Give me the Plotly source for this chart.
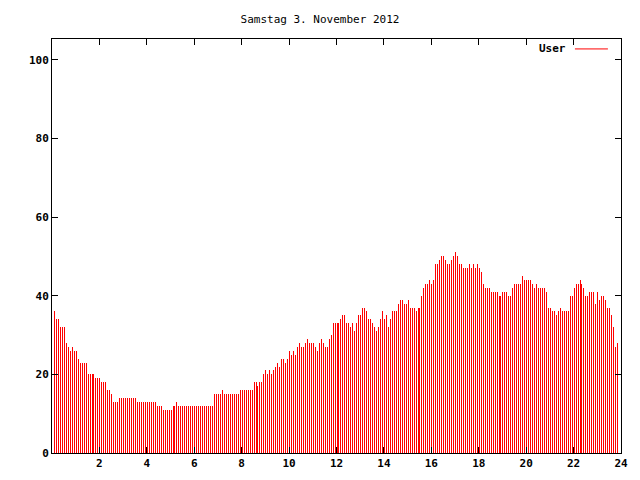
import plotly.graph_objects as go

title_text = "Samstag 3. November 2012"
series_name = "User"
step_minutes = 5

seg_a = [36, 34, 34, 32, 32, 32, 28, 27, 26, 27, 26, 26, 24, 23, 23, 23, 23, 20, 20, 20, 20, 19, 19, 19,
         18, 18, 18, 16, 16, 15, 13, 13, 13, 14, 14, 14, 14, 14, 14, 14, 14, 14, 13, 13]
seg_b = [13, 13, 13, 13, 13, 13, 13, 13, 12, 12, 12, 11, 11, 11, 11, 11, 12, 12, 13,
         12, 12, 12, 12, 12, 12, 12, 12, 12, 12, 12, 12, 12, 12, 12, 12, 12, 12,
         15, 15, 15, 15, 16, 15, 15, 15]
seg_c = [15, 15, 15, 15, 15, 16, 16, 16, 16, 16, 16, 16, 18, 18, 17, 18, 18,
         20, 21, 20, 21, 20, 21, 22, 23, 22, 24, 24, 23, 24, 26, 25, 26, 25, 27, 28, 27, 27, 28, 29,
         28, 28, 28, 27, 26, 28]
seg_d = [29, 28, 27, 27, 29, 30, 33, 33, 33, 33, 34, 35, 35, 33, 33, 32, 33, 31, 33, 35, 35, 37, 37,
         36, 34, 34, 33, 32, 31, 32, 34, 36, 34, 35, 32, 34, 36, 36, 36, 38, 39, 39, 38, 38, 39]
seg_e = [37, 37, 37, 36, 37, 37, 40, 42, 43, 43, 44, 43, 44, 48, 48, 49, 50, 50, 49, 48, 48, 49, 50,
         51, 50, 48, 48, 47, 47, 47, 48, 47, 48, 47, 48, 47, 46, 43, 42, 42, 42, 41, 41, 41, 41, 40]
seg_f = [40, 41, 41, 41, 40, 40, 42, 43, 43, 43, 43, 45, 44, 44, 44, 44, 43, 42, 43, 42, 42, 42, 42,
         41, 37, 37, 36, 36, 35, 36, 37, 36, 36, 36, 36, 40, 40, 42, 43, 43, 44, 43, 42, 40, 40]
seg_g = [41, 41, 41, 38, 41, 39, 40, 40, 39, 37, 37, 35, 32, 27, 28]

user = seg_a + seg_b + seg_c + seg_d + seg_e + seg_f + seg_g
hours = [(i + 1) * step_minutes / 60 for i in range(len(user))]

x_ticks = [2, 4, 6, 8, 10, 12, 14, 16, 18, 20, 22, 24]
y_ticks = [0, 20, 40, 60, 80, 100]

RED = "#ff0000"
BAR_RED = "rgba(255,0,0,0.995)"
mono = "DejaVu Sans Mono"

ML, MR, MT, MB = 52, 19, 39, 27
plot_w = 640 - ML - MR
bar_w = 24 / plot_w  # one pixel wide, like gnuplot impulses

fig = go.Figure()
fig.add_trace(go.Bar(
    x=hours, y=user, width=bar_w, offset=0, name=series_name,
    marker=dict(color=BAR_RED, line=dict(width=0)),
    showlegend=False,
))

axis_common = dict(
    showline=True, linecolor="black", linewidth=1, mirror="ticks",
    ticks="inside", ticklen=6, tickcolor="black", tickwidth=1,
    showgrid=False, zeroline=False,
    tickfont=dict(family=mono, size=11, color="black", weight="bold"),
)

fig.update_layout(
    width=640, height=480,
    margin=dict(l=ML, r=MR, t=MT, b=MB, autoexpand=False),
    paper_bgcolor="white", plot_bgcolor="white",
    title=dict(text=title_text, x=0.5, xanchor="center", y=1 - 19 / 480, yanchor="middle",
               font=dict(family=mono, size=11, color="black")),
    xaxis=dict(range=[0, 24], tickvals=x_ticks, ticktext=[str(v) for v in x_ticks],
               automargin=False, **axis_common),
    yaxis=dict(range=[0, 105.3], tickvals=y_ticks, ticktext=[str(v) for v in y_ticks],
               automargin=False, **axis_common),
    bargap=0,
    annotations=[dict(text=series_name, xref="paper", yref="paper", x=0.906, y=0.976,
                      xanchor="right", yanchor="middle", showarrow=False,
                      font=dict(family=mono, size=11, color="black", weight="bold"))],
    shapes=[dict(type="line", xref="paper", yref="paper", x0=0.919, x1=0.977, y0=0.976, y1=0.976,
                 line=dict(color=RED, width=1))],
)

fig.write_html("out.html", config={"displayModeBar": False},
               post_script="document.body.style.margin='0';")
